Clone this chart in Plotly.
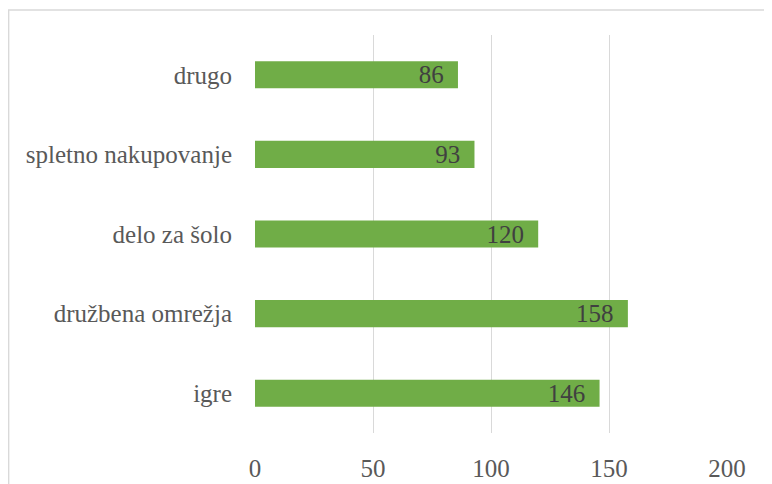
import plotly.graph_objects as go

categories = ["igre", "družbena omrežja", "delo za šolo", "spletno nakupovanje", "drugo"]
values = [146, 158, 120, 93, 86]
tick_vals = [0, 50, 100, 150, 200]

FONT = "Liberation Serif"

fig = go.Figure(
    go.Bar(
        y=categories,
        x=values,
        orientation="h",
        marker=dict(color="#70AD47", line=dict(width=0)),
        text=[f"{v}\u00a0\u2009" for v in values],
        textposition="inside",
        insidetextanchor="end",
        textangle=0,
        constraintext="none",
        textfont=dict(family=FONT, size=25, color="#404040"),
        cliponaxis=False,
    )
)

fig.update_layout(
    width=764,
    height=476,
    margin=dict(l=247, r=45, t=27, b=51, autoexpand=False),
    paper_bgcolor="white",
    plot_bgcolor="white",
    bargap=0.66,
    showlegend=False,
    font=dict(family=FONT, size=25, color="#595959"),
    xaxis=dict(
        range=[0, 200],
        tickvals=tick_vals,
        showgrid=True,
        gridcolor="#D9D9D9",
        gridwidth=1,
        zeroline=False,
        showline=False,
        ticks="",
        automargin=False,
        ticklabelstandoff=18,
        tickfont=dict(family=FONT, size=25, color="#595959"),
    ),
    yaxis=dict(
        showgrid=False,
        zeroline=False,
        showline=False,
        ticks="",
        automargin=False,
        ticklabelstandoff=22,
        tickfont=dict(family=FONT, size=25, color="#595959"),
    ),
    shapes=[
        dict(
            type="rect",
            xref="paper",
            yref="paper",
            x0=-0.522,
            x1=1.3,
            y0=-0.3,
            y1=1.063,
            line=dict(color="#D9D9D9", width=1.5),
            fillcolor="rgba(0,0,0,0)",
            layer="below",
        )
    ],
)

fig.write_html("out.html")
